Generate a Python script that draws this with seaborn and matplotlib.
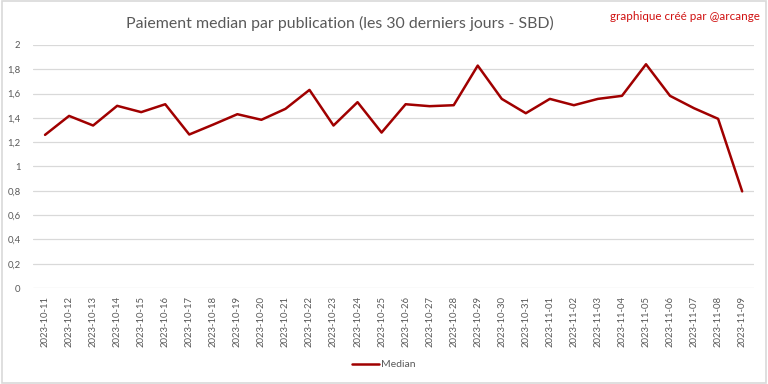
import pandas as pd
import matplotlib.pyplot as plt
import seaborn as sns
from matplotlib.patches import Rectangle
from matplotlib.ticker import FuncFormatter

dates = [
    '2023-10-11', '2023-10-12', '2023-10-13', '2023-10-14', '2023-10-15',
    '2023-10-16', '2023-10-17', '2023-10-18', '2023-10-19', '2023-10-20',
    '2023-10-21', '2023-10-22', '2023-10-23', '2023-10-24', '2023-10-25',
    '2023-10-26', '2023-10-27', '2023-10-28', '2023-10-29', '2023-10-30',
    '2023-10-31', '2023-11-01', '2023-11-02', '2023-11-03', '2023-11-04',
    '2023-11-05', '2023-11-06', '2023-11-07', '2023-11-08', '2023-11-09',
]
median = [
    1.26, 1.416, 1.337, 1.499, 1.447, 1.512, 1.263, 1.345, 1.430, 1.384,
    1.474, 1.63, 1.337, 1.529, 1.279, 1.512, 1.496, 1.504, 1.830, 1.556,
    1.438, 1.556, 1.504, 1.556, 1.581, 1.841, 1.581, 1.479, 1.392, 0.795,
]
y_ticks = [0, 0.2, 0.4, 0.6, 0.8, 1.0, 1.2, 1.4, 1.6, 1.8, 2.0]

sns.set_style('white')
plt.rcParams['font.family'] = ['Lato', 'DejaVu Sans']

df = pd.DataFrame({'date': dates, 'Median': median})

fig = plt.figure(figsize=(7.68, 3.84), dpi=100)
ax = fig.add_axes([0.043, 0.25, 0.939, 0.633])

sns.lineplot(data=df, x='date', y='Median', color='#A00000', linewidth=1.8,
             label='Median', ax=ax, legend=False)

grey = '#595959'
ax.set_xlim(-0.5, len(dates) - 0.5)
ax.set_ylim(0, 2)
ax.set_yticks(y_ticks)
ax.yaxis.set_major_formatter(FuncFormatter(lambda v, p: f'{v:g}'.replace('.', ',')))
ax.grid(axis='y', color='#D9D9D9', linewidth=0.9)
ax.set_axisbelow(True)
for s in ax.spines.values():
    s.set_visible(False)
ax.tick_params(axis='both', length=0, colors=grey, labelsize=6.8)
ax.tick_params(axis='x', pad=6)
ax.tick_params(axis='y', pad=9)
plt.setp(ax.get_xticklabels(), rotation=90)
ax.set_xlabel('')
ax.set_ylabel('')

fig.text(0.443, 0.94, 'Paiement median par publication (les 30 derniers jours - SBD)',
         ha='center', va='center', fontsize=11.4, color=grey)
fig.text(0.99, 0.957, 'graphique créé par @arcange', ha='right', va='center',
         fontsize=8.4, color='#D01010')

handles, labels = ax.get_legend_handles_labels()
fig.legend(handles, labels, loc='center', bbox_to_anchor=(0.5, 0.05), frameon=False,
           fontsize=7.5, labelcolor=grey, handlelength=2.6, handletextpad=0.2)

fig.patches.append(Rectangle((0.002, 0.003), 0.996, 0.994, transform=fig.transFigure,
                             fill=False, edgecolor='#D9D9D9', linewidth=1.2))

plt.savefig('out.png', dpi=100)
plt.close()
